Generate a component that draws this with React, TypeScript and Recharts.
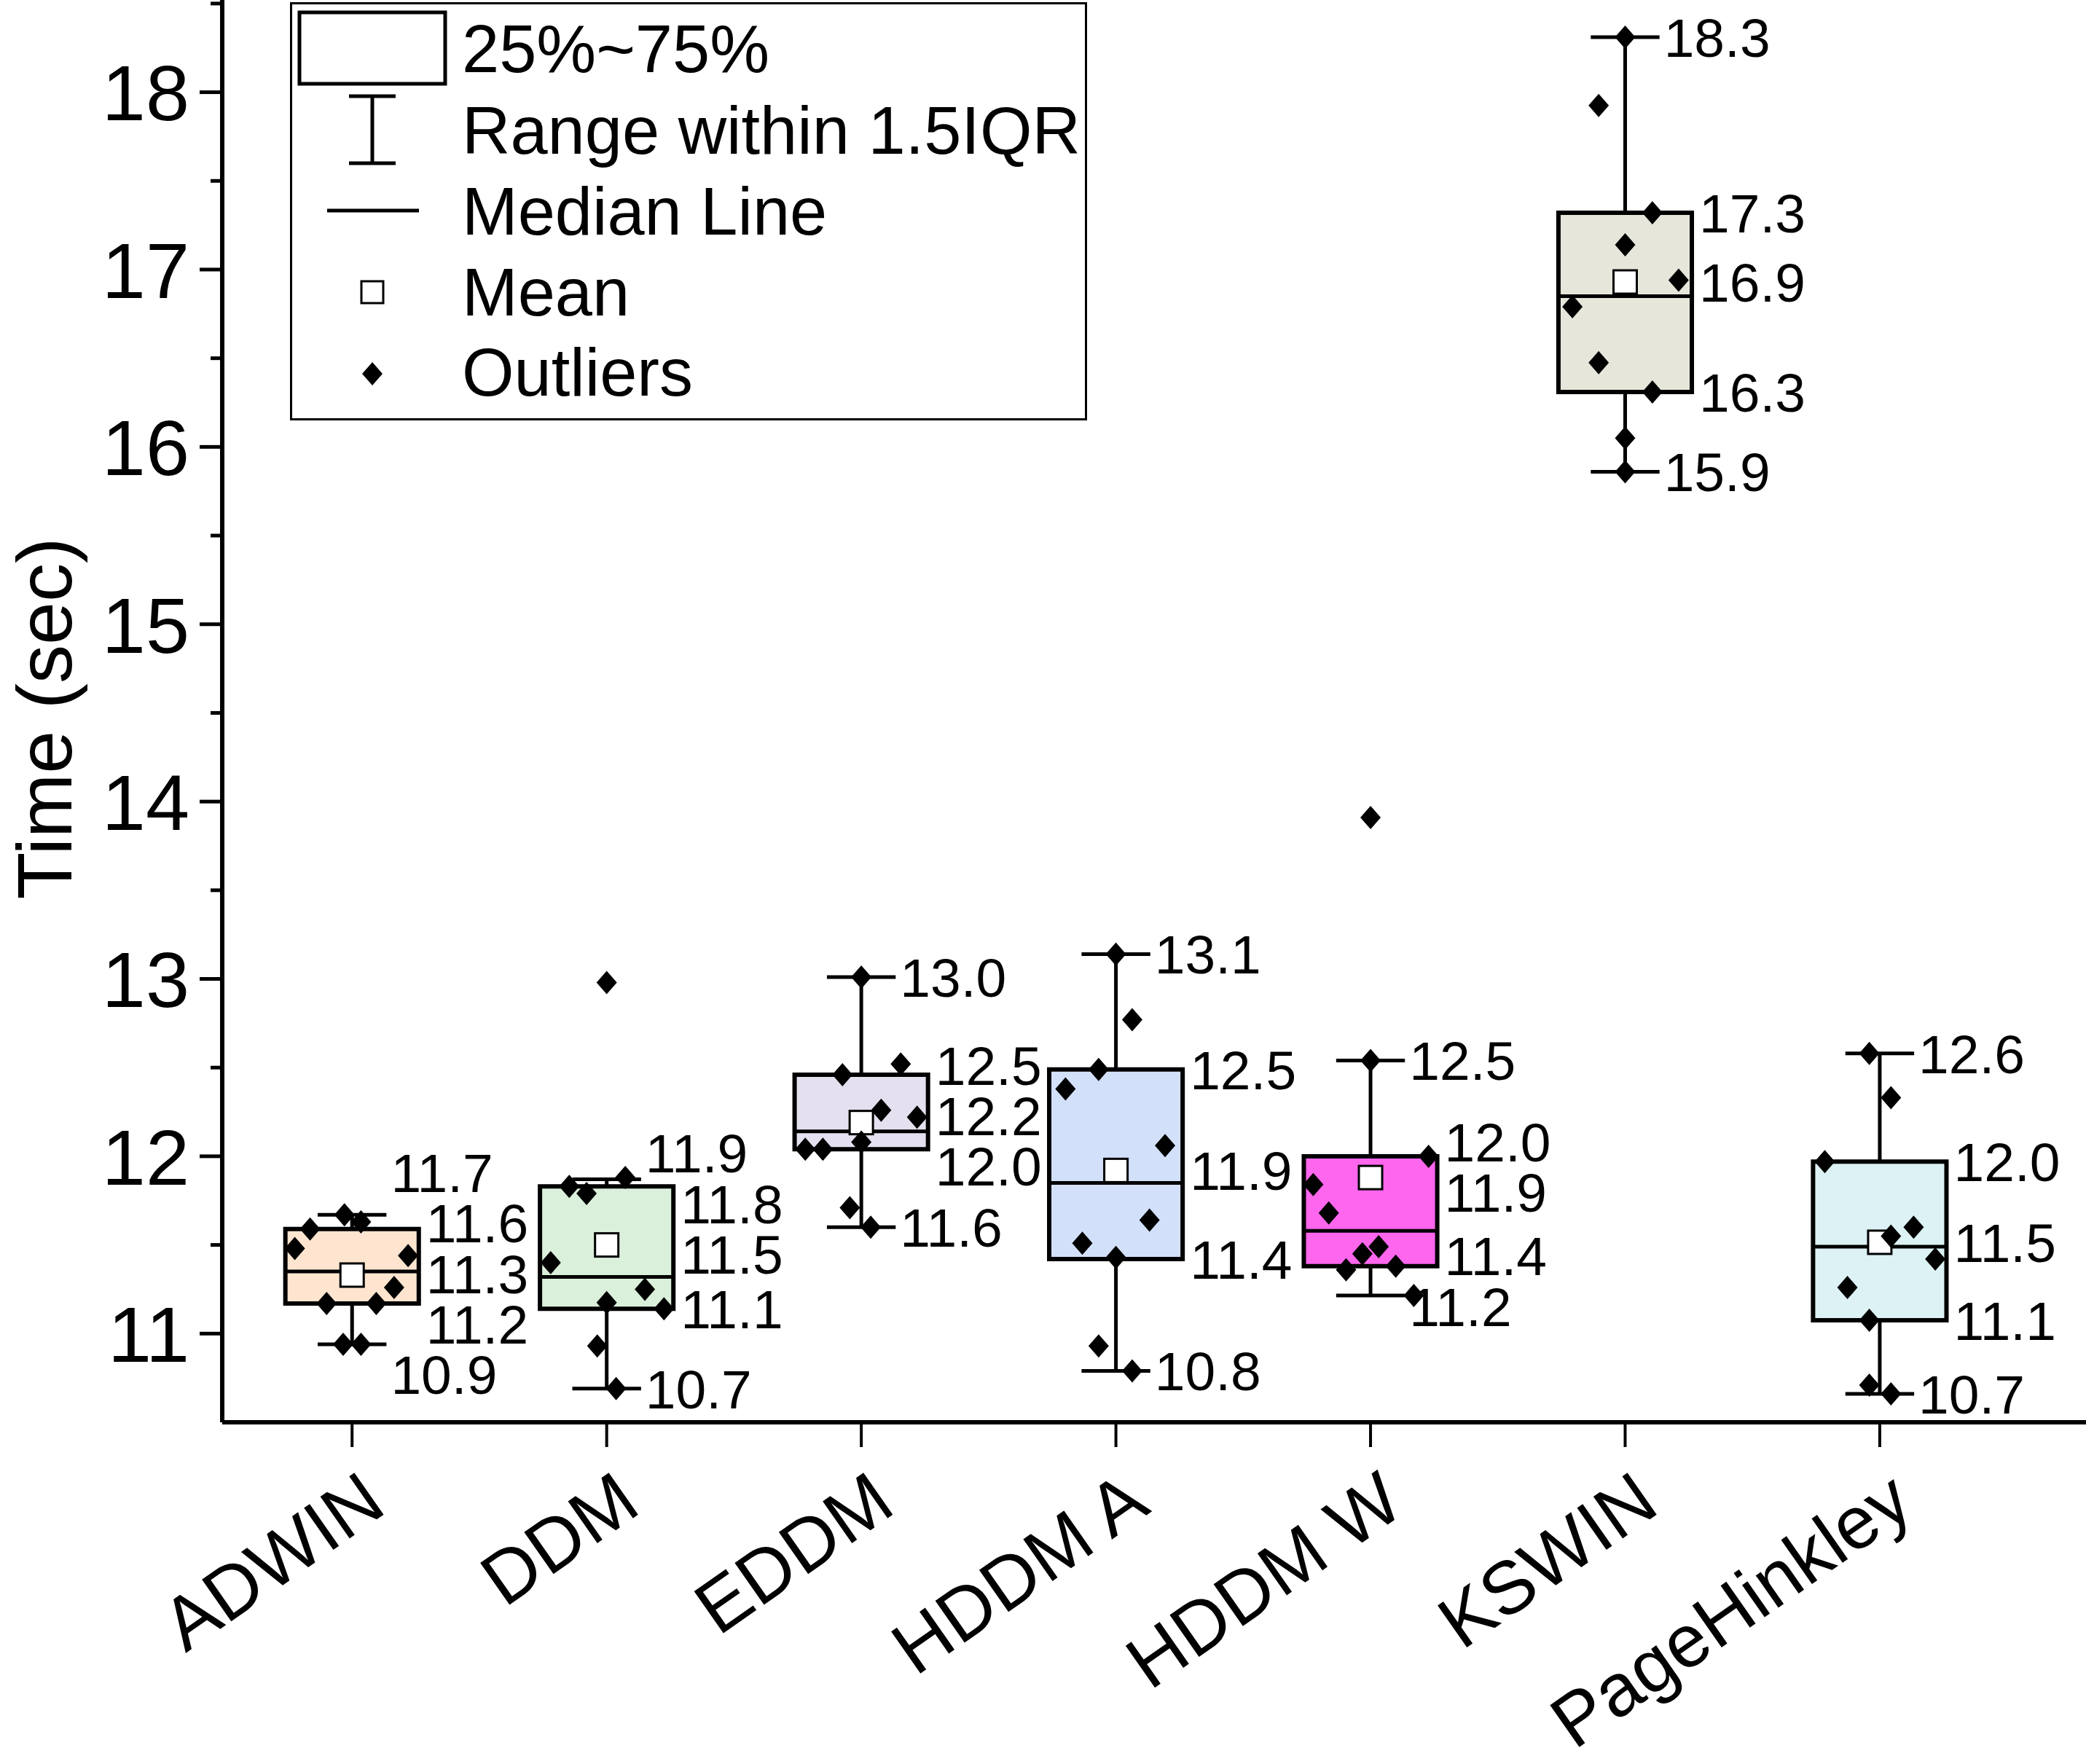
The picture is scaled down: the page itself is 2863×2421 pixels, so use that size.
import React from 'react';
import { ComposedChart, XAxis, YAxis, Scatter, ReferenceArea, ReferenceLine, Legend } from 'recharts';

// detector names along the x axis
const categories = ['ADWIN', 'DDM', 'EDDM', 'HDDM A', 'HDDM W', 'KSWIN', 'PageHinkley'];
const boxFills = ['#FFE5D0', '#DAF0DA', '#E5E0EF', '#D3E0F9', '#FF66EE', '#E7E6DB', '#DCF2F4'];

// box statistics (sec)
const q1 = [11.17, 11.14, 12.04, 11.42, 11.38, 16.31, 11.075];
const median = [11.35, 11.32, 12.14, 11.85, 11.58, 16.85, 11.49];
const q3 = [11.59, 11.83, 12.46, 12.49, 12.0, 17.32, 11.97];
const whiskerLow = [10.94, 10.69, 11.6, 10.79, 11.215, 15.86, 10.66];
const whiskerHigh = [11.67, 11.87, 13.01, 13.14, 12.54, 18.31, 12.58];
const means = [11.33, 11.5, 12.19, 11.92, 11.88, 16.93, 11.515];

// raw runs per detector, with the horizontal jitter used in the plot
const adwinRuns = [11.67, 11.63, 11.59, 11.48, 11.44, 11.26, 11.17, 11.17, 10.94, 10.94];
const adwinJitter = [-0.03, 0.035, -0.165, -0.225, 0.22, 0.165, -0.1, 0.095, -0.035, 0.035];
const ddmRuns = [12.98, 11.83, 11.79, 11.88, 11.4, 11.25, 11.175, 11.14, 10.93, 10.69];
const ddmJitter = [0, -0.147, -0.079, 0.073, -0.22, 0.15, 0, 0.225, -0.037, 0.037];
const eddmRuns = [13.01, 12.46, 12.52, 12.26, 12.22, 12.04, 12.04, 12.08, 11.71, 11.6];
const eddmJitter = [0, -0.074, 0.155, 0.078, 0.219, -0.22, -0.151, 0, -0.045, 0.037];
const hddmARuns = [13.14, 12.77, 12.49, 12.38, 12.06, 11.64, 11.51, 11.43, 10.93, 10.79];
const hddmAJitter = [0, 0.064, -0.068, -0.198, 0.193, 0.132, -0.132, 0, -0.068, 0.064];
const hddmWRuns = [13.91, 12.54, 12.0, 11.84, 11.68, 11.49, 11.45, 11.38, 11.36, 11.215];
const hddmWJitter = [0, 0, 0.228, -0.225, -0.164, 0.032, -0.032, 0.099, -0.096, 0.17];
const kswinRuns = [18.31, 17.925, 17.32, 17.14, 16.94, 16.79, 16.475, 16.31, 16.05, 15.86];
const kswinJitter = [0, -0.104, 0.107, 0, 0.21, -0.207, -0.104, 0.107, 0, 0];
const phRuns = [12.58, 12.33, 11.97, 11.6, 11.55, 11.42, 11.26, 11.075, 10.71, 10.66];
const phJitter = [-0.041, 0.044, -0.216, 0.133, 0.044, 0.218, -0.127, -0.041, -0.041, 0.044];

const runs = [adwinRuns, ddmRuns, eddmRuns, hddmARuns, hddmWRuns, kswinRuns, phRuns];
const jitters = [adwinJitter, ddmJitter, eddmJitter, hddmAJitter, hddmWJitter, kswinJitter, phJitter];

const xTicks = [1, 2, 3, 4, 5, 6, 7];
const yTicks = [11, 11.5, 12, 12.5, 13, 13.5, 14, 14.5, 15, 15.5, 16, 16.5, 17, 17.5, 18, 18.5];

const W = 2863;
const H = 2421;
const FONT = '"Liberation Sans", Arial, Helvetica, sans-serif';
const BOX_HALF = 0.262;
const CAP_HALF = 0.135;
const LABEL_GAP = 0.285; // min vertical distance between value labels (data units)

const pointData = runs.flatMap((arr, i) =>
  arr.map((v, k) => ({ x: i + 1 + jitters[i][k], y: v }))
);
const meanData = means.map((m, i) => ({ x: i + 1, y: m }));

// push overlapping labels apart, keeping each group centred on its values
function spread(vals: number[], gap: number): number[] {
  const clusters: { n: number; sum: number }[] = [];
  vals.forEach((v) => {
    clusters.push({ n: 1, sum: v });
    while (clusters.length > 1) {
      const b = clusters[clusters.length - 1];
      const a = clusters[clusters.length - 2];
      const aBottom = a.sum / a.n - ((a.n - 1) * gap) / 2;
      const bTop = b.sum / b.n + ((b.n - 1) * gap) / 2;
      if (aBottom - bTop < gap) {
        a.n += b.n;
        a.sum += b.sum;
        clusters.pop();
      } else break;
    }
  });
  const out: number[] = [];
  clusters.forEach((c) => {
    const mid = c.sum / c.n;
    for (let k = 0; k < c.n; k++) out.push(mid + ((c.n - 1) / 2 - k) * gap);
  });
  return out;
}

const labelData = categories.flatMap((_, i) => {
  const items = [
    { v: whiskerHigh[i], cap: true },
    { v: q3[i], cap: false },
    { v: means[i], cap: false },
    { v: q1[i], cap: false },
    { v: whiskerLow[i], cap: true },
  ].sort((a, b) => b.v - a.v);
  const ys = spread(items.map((d) => d.v), LABEL_GAP);
  return items.map((d, k) => ({
    x: i + 1 + (d.cap ? CAP_HALF : BOX_HALF),
    y: ys[k],
    text: d.v.toFixed(1),
    dx: d.cap ? 6 : 10,
  }));
});

const YTick = ({ x, y, payload }: any) => {
  const v = payload.value;
  const major = Number.isInteger(v);
  return (
    <g>
      <line x1={x} x2={x - (major ? 31 : 16)} y1={y} y2={y} stroke="#000" strokeWidth={5} />
      {major && (
        <text x={x - 45} y={y} dy="0.36em" textAnchor="end" fontSize={108} fontFamily={FONT} fill="#000">
          {v}
        </text>
      )}
    </g>
  );
};

const XTick = ({ x, y, payload }: any) => {
  const tx = x + 50;
  const ty = y + 122;
  return (
    <g>
      <line x1={x} x2={x} y1={y} y2={y + 34} stroke="#000" strokeWidth={4} />
      <text
        x={tx}
        y={ty}
        transform={`rotate(-35, ${tx}, ${ty})`}
        textAnchor="end"
        fontSize={102}
        fontFamily={FONT}
        fill="#000"
      >
        {categories[payload.value - 1]}
      </text>
    </g>
  );
};

const YLabel = ({ viewBox }: any) => {
  const cy = viewBox.y + viewBox.height / 2 + 10;
  return (
    <text
      x={98}
      y={cy}
      transform={`rotate(-90, 98, ${cy})`}
      textAnchor="middle"
      fontSize={106}
      fontFamily={FONT}
      fill="#000"
    >
      Time (sec)
    </text>
  );
};

const Diamond = ({ cx, cy }: any) => (
  <path d={`M${cx},${cy - 16} L${cx + 14},${cy} L${cx},${cy + 16} L${cx - 14},${cy} Z`} fill="#000" />
);

const MeanSquare = ({ cx, cy }: any) => (
  <rect x={cx - 16} y={cy - 16} width={32} height={32} fill="#fff" stroke="#000" strokeWidth={3} />
);

const ValueLabel = ({ cx, cy, payload }: any) => (
  <text x={cx + payload.dx} y={cy} dy="0.36em" fontSize={75} fontFamily={FONT} fill="#000">
    {payload.text}
  </text>
);

const legendRows = ['25%~75%', 'Range within 1.5IQR', 'Median Line', 'Mean', 'Outliers'];
const rowY = [63, 175, 286, 397, 507];

const LegendBox = () => (
  <svg width={1094} height={574} style={{ display: 'block' }}>
    <rect x={1.5} y={1.5} width={1091} height={571} fill="#fff" stroke="#000" strokeWidth={3} />
    <rect x={13} y={14} width={200} height={98} fill="#fff" stroke="#000" strokeWidth={5} />
    <line x1={113} x2={113} y1={129} y2={221} stroke="#000" strokeWidth={5} />
    <line x1={81} x2={145} y1={129} y2={129} stroke="#000" strokeWidth={5} />
    <line x1={81} x2={145} y1={221} y2={221} stroke="#000" strokeWidth={5} />
    <line x1={51} x2={177} y1={286} y2={286} stroke="#000" strokeWidth={5} />
    <rect x={98} y={383} width={30} height={30} fill="#fff" stroke="#000" strokeWidth={3} />
    <path d="M113,494 L127,510 L113,526 L99,510 Z" fill="#000" />
    {legendRows.map((t, i) => (
      <text key={t} x={236} y={rowY[i]} dy="0.36em" fontSize={92} fontFamily={FONT} fill="#000">
        {t}
      </text>
    ))}
  </svg>
);

export default function App() {
  return (
    <div style={{ width: W, height: H, background: '#fff' }}>
      <style>{'body{margin:0;background:#fff;}'}</style>
      <ComposedChart width={W} height={H} margin={{ top: 0, right: 0, bottom: 0, left: 0 }}>
        <XAxis
          type="number"
          dataKey="x"
          domain={[0.49, 7.81]}
          ticks={xTicks}
          interval={0}
          allowDataOverflow
          height={469}
          tickSize={0}
          tickMargin={0}
          tickLine={false}
          axisLine={{ stroke: '#000', strokeWidth: 6 }}
          tick={<XTick />}
        />
        <YAxis
          type="number"
          dataKey="y"
          domain={[10.5, 18.52]}
          ticks={yTicks}
          interval={0}
          allowDataOverflow
          width={305}
          tickSize={0}
          tickMargin={0}
          tickLine={false}
          axisLine={{ stroke: '#000', strokeWidth: 6 }}
          tick={<YTick />}
          label={<YLabel />}
        />
        <Legend
          layout="horizontal"
          verticalAlign="middle"
          align="center"
          wrapperStyle={{ position: 'absolute', left: 398, top: 3, width: 1094, height: 574 }}
          content={() => <LegendBox />}
        />
        {categories.map((c, i) => (
          <ReferenceArea
            key={`box-${c}`}
            x1={i + 1 - BOX_HALF}
            x2={i + 1 + BOX_HALF}
            y1={q1[i]}
            y2={q3[i]}
            fill={boxFills[i]}
            fillOpacity={1}
            stroke="#000"
            strokeWidth={6}
          />
        ))}
        {categories.map((c, i) => (
          <ReferenceLine
            key={`med-${c}`}
            segment={[{ x: i + 1 - BOX_HALF, y: median[i] }, { x: i + 1 + BOX_HALF, y: median[i] }]}
            stroke="#000"
            strokeWidth={5}
          />
        ))}
        {categories.map((c, i) => (
          <ReferenceLine
            key={`wh-${c}`}
            segment={[{ x: i + 1, y: q3[i] }, { x: i + 1, y: whiskerHigh[i] }]}
            stroke="#000"
            strokeWidth={5}
          />
        ))}
        {categories.map((c, i) => (
          <ReferenceLine
            key={`wl-${c}`}
            segment={[{ x: i + 1, y: q1[i] }, { x: i + 1, y: whiskerLow[i] }]}
            stroke="#000"
            strokeWidth={5}
          />
        ))}
        {categories.map((c, i) => (
          <ReferenceLine
            key={`ch-${c}`}
            segment={[{ x: i + 1 - CAP_HALF, y: whiskerHigh[i] }, { x: i + 1 + CAP_HALF, y: whiskerHigh[i] }]}
            stroke="#000"
            strokeWidth={5}
          />
        ))}
        {categories.map((c, i) => (
          <ReferenceLine
            key={`cl-${c}`}
            segment={[{ x: i + 1 - CAP_HALF, y: whiskerLow[i] }, { x: i + 1 + CAP_HALF, y: whiskerLow[i] }]}
            stroke="#000"
            strokeWidth={5}
          />
        ))}
        <Scatter data={meanData} shape={<MeanSquare />} isAnimationActive={false} />
        <Scatter data={pointData} shape={<Diamond />} isAnimationActive={false} />
        <Scatter data={labelData} shape={<ValueLabel />} isAnimationActive={false} />
      </ComposedChart>
    </div>
  );
}
